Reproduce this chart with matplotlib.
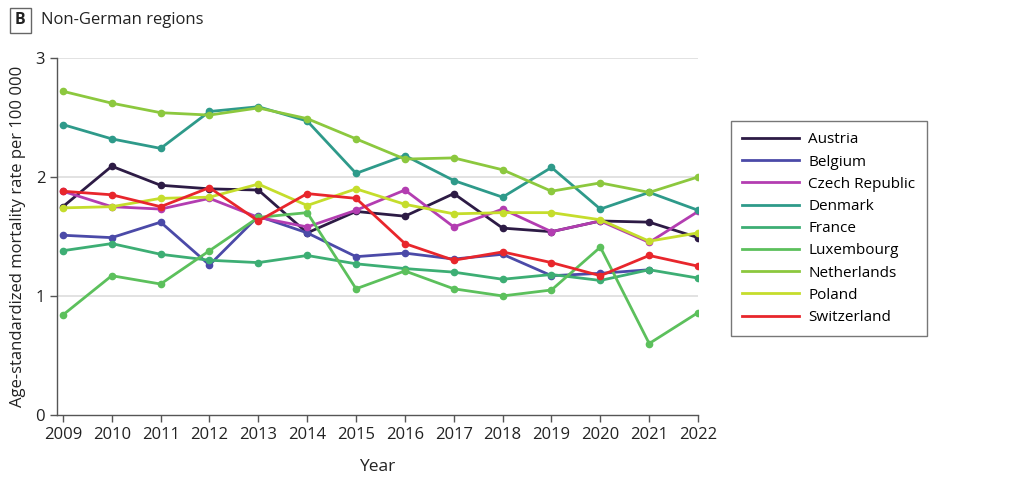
import numpy as np
import matplotlib
matplotlib.use("Agg")
import matplotlib.pyplot as plt
from matplotlib import font_manager as fm
from matplotlib.patches import Rectangle

names = {f.name for f in fm.fontManager.ttflist}
fam = "Liberation Sans Narrow" if "Liberation Sans Narrow" in names else "Open Sans"
plt.rcParams['font.family'] = [fam, 'DejaVu Sans']

years = list(range(2009, 2023))
countries = ["Austria", "Belgium", "Czech Republic", "Denmark", "France",
             "Luxembourg", "Netherlands", "Poland", "Switzerland"]
colors = ["#2D1B45", "#4B4AA8", "#B33DB1", "#2E9A8A", "#3DAE74",
          "#5CC05C", "#8CC83E", "#C5DD2C", "#E8262C"]

austria = [1.75, 2.09, 1.93, 1.90, 1.89, 1.53, 1.71, 1.67, 1.86, 1.57, 1.54, 1.63, 1.62, 1.49]
belgium = [1.51, 1.49, 1.62, 1.26, 1.67, 1.53, 1.33, 1.36, 1.31, 1.35, 1.17, 1.19, 1.22, np.nan]
czech = [1.88, 1.75, 1.73, 1.82, 1.66, 1.58, 1.72, 1.89, 1.58, 1.73, 1.54, 1.63, 1.45, 1.71]
denmark = [2.44, 2.32, 2.24, 2.55, 2.59, 2.47, 2.03, 2.18, 1.97, 1.83, 2.08, 1.73, 1.87, 1.72]
france = [1.38, 1.44, 1.35, 1.30, 1.28, 1.34, 1.27, 1.23, 1.20, 1.14, 1.18, 1.13, 1.22, 1.15]
luxembourg = [0.84, 1.17, 1.10, 1.38, 1.66, 1.70, 1.06, 1.21, 1.06, 1.00, 1.05, 1.41, 0.60, 0.86]
netherlands = [2.72, 2.62, 2.54, 2.52, 2.58, 2.49, 2.32, 2.15, 2.16, 2.06, 1.88, 1.95, 1.87, 2.00]
poland = [1.74, 1.75, 1.82, 1.83, 1.94, 1.76, 1.90, 1.77, 1.69, 1.70, 1.70, 1.64, 1.46, 1.53]
switzerland = [1.88, 1.85, 1.75, 1.91, 1.63, 1.86, 1.82, 1.44, 1.30, 1.37, 1.28, 1.17, 1.34, 1.25]

series = [austria, belgium, czech, denmark, france, luxembourg, netherlands, poland, switzerland]

fig = plt.figure(figsize=(10.24, 4.87), dpi=100)
ax = fig.add_axes([0.0557, 0.148, 0.626, 0.733])

for name, vals, c in zip(countries, series, colors):
    ax.plot(years, vals, color=c, lw=2, marker="o", ms=4.5, label=name, zorder=3)

ax.set_xlim(2008.88, 2022)
ax.set_ylim(0, 3)
ax.set_yticks([0, 1, 2, 3])
ax.set_xticks(years)
for y in [1, 2, 3]:
    ax.axhline(y, color="#DDDDDD", lw=1.2, zorder=1)
ax.spines["top"].set_visible(False)
ax.spines["right"].set_visible(False)
for s in ["left", "bottom"]:
    ax.spines[s].set_color("#555555")
    ax.spines[s].set_linewidth(1)
ax.tick_params(axis="both", labelsize=12, color="#555555", length=5, width=1,
               labelcolor="#222222")
ax.set_xlabel("Year", fontsize=12.5, color="#222222", labelpad=12)
ax.set_ylabel("Age-standardized mortality rate per 100 000", fontsize=12,
              color="#222222", labelpad=7)

leg = ax.legend(loc="upper left", bbox_to_anchor=(731/1024, 1-121/487),
                bbox_transform=fig.transFigure, fontsize=11, frameon=True,
                fancybox=False, edgecolor="#555555", handlelength=3.7,
                labelspacing=0.47, borderpad=0.75, handletextpad=0.6,
                borderaxespad=0)
leg.get_frame().set_linewidth(1)
for h in leg.get_lines():
    h.set_marker("")
    h.set_linewidth(2)

fig.patches.append(Rectangle((10/1024, 1-33/487), 21/1024, 25/487,
                             transform=fig.transFigure, fill=False,
                             edgecolor="#666666", lw=1))
fig.text(20.5/1024, 1-20.5/487, "B", fontsize=11.5, fontweight="bold",
         ha="center", va="center", color="#222222")
fig.text(41/1024, 1-20.5/487, "Non-German regions", fontsize=12,
         ha="left", va="center", color="#222222")

fig.savefig("out.png", dpi=100)
